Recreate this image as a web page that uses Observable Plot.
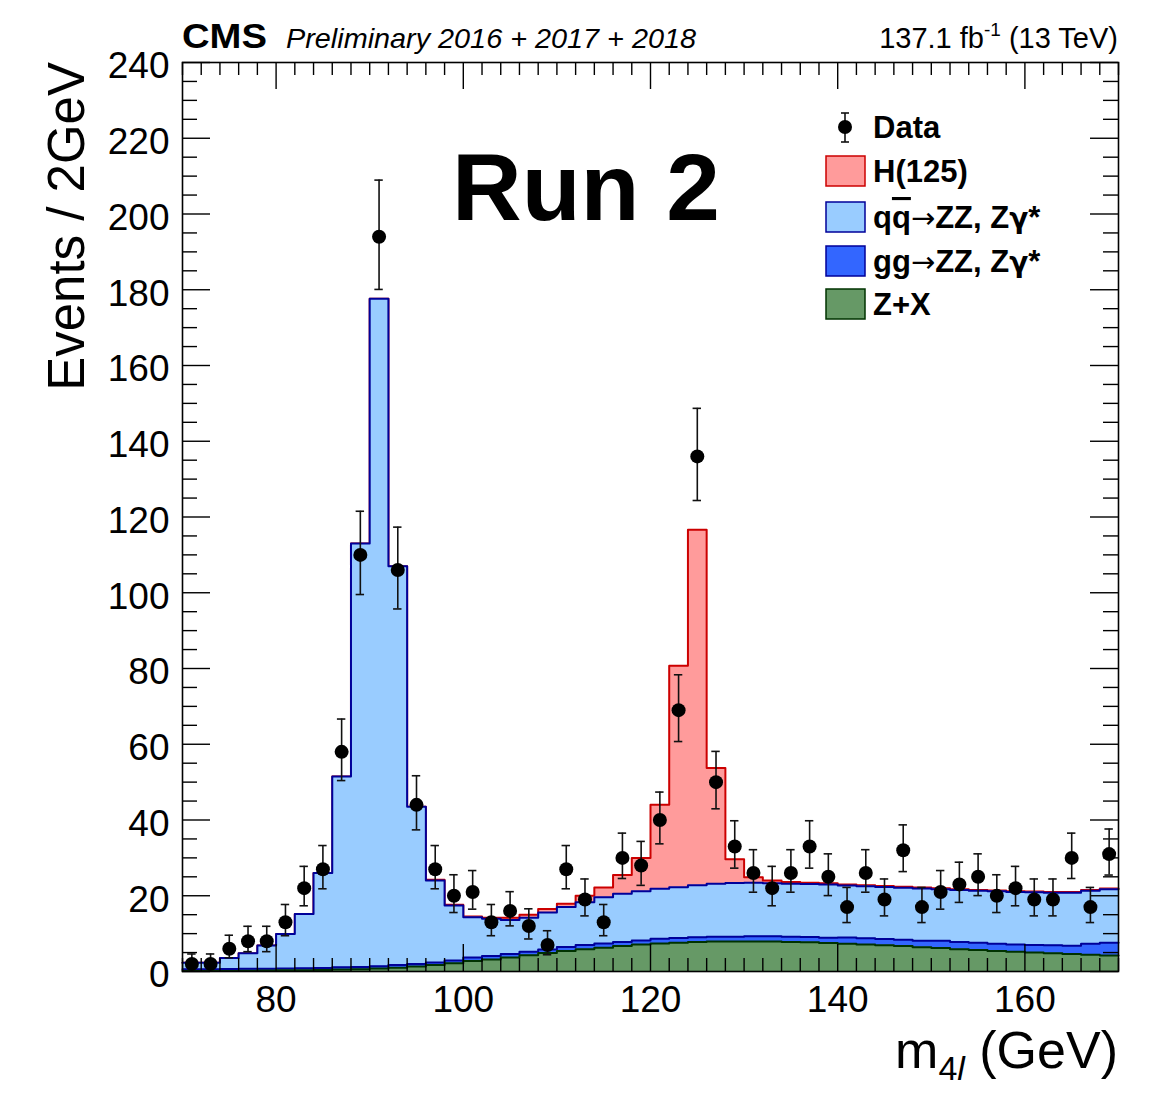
<!DOCTYPE html>
<html>
<head>
<meta charset="utf-8">
<script src="https://cdn.jsdelivr.net/npm/d3@7"></script>
<script src="https://cdn.jsdelivr.net/npm/@observablehq/plot@0.6"></script>
<style>
  html, body { margin: 0; padding: 0; background: #fff; }
  svg { display: block; }
</style>
</head>
<body>
<script>
// ---- Data ----
const binLow = [70,72,74,76,78,80,82,84,86,88,90,92,94,96,98,100,102,104,106,108,
                110,112,114,116,118,120,122,124,126,128,130,132,134,136,138,140,142,144,146,148,
                150,152,154,156,158,160,162,164,166,168];
const binHigh = [72,74,76,78,80,82,84,86,88,90,92,94,96,98,100,102,104,106,108,110,
                 112,114,116,118,120,122,124,126,128,130,132,134,136,138,140,142,144,146,148,150,
                 152,154,156,158,160,162,164,166,168,170];
const binCenter = [71,73,75,77,79,81,83,85,87,89,91,93,95,97,99,101,103,105,107,109,
                   111,113,115,117,119,121,123,125,127,129,131,133,135,137,139,141,143,145,147,149,
                   151,153,155,157,159,161,163,165,167,169];

// Observed events per bin
const dataCounts = [2,2,6,8,8,13,22,27,58,110,194,106,44,27,20,21,13,16,12,7,
                    27,19,13,30,28,40,69,136,50,33,26,22,26,33,25,17,26,19,32,17,
                    21,23,25,20,22,19,19,30,17,31];

// Z+X background
const zx = [0.1,0.1,0.15,0.2,0.25,0.3,0.35,0.4,0.5,0.6,0.8,1.0,1.3,1.7,2.2,2.8,3.2,3.7,4.3,4.9,
            5.4,5.9,6.3,6.7,7.1,7.4,7.6,7.8,7.9,7.9,7.9,7.9,7.8,7.7,7.5,7.3,7.1,6.9,6.7,6.4,
            6.2,5.9,5.7,5.4,5.2,5.0,4.8,4.6,4.4,4.2];
// gg -> ZZ, Zgamma*
const gg = [0.5,0.5,0.5,0.5,0.5,0.5,0.5,0.5,0.6,0.6,0.6,0.7,0.7,0.7,0.7,0.9,0.9,0.9,0.9,0.9,
            1.1,1.1,1.1,1.1,1.1,1.25,1.25,1.25,1.25,1.25,1.4,1.4,1.4,1.4,1.4,1.7,1.7,1.7,1.7,1.7,
            1.9,1.9,1.9,1.9,1.9,2.0,2.1,2.2,2.9,3.4];
// q qbar -> ZZ, Zgamma*
const qq = [1.7,1.7,2.9,4.1,6.1,9.1,14.3,25.1,50.4,111.8,176.2,105.3,41.5,21.6,14.5,10.6,9.8,9.0,9.0,9.8,
            10.5,11.3,12.2,12.7,13.0,13.2,13.4,13.7,14.0,14.2,14.1,14.0,14.0,14.0,14.1,13.7,13.7,13.7,13.7,13.8,
            13.6,13.7,13.7,13.9,13.9,13.9,13.9,14.0,14.0,14.1];
// H(125) signal
const higgs = [0,0,0,0,0,0,0,0,0,0,0,0,0,0.2,0.2,0.2,0.3,0.6,0.8,0.9,
               0.9,1.7,2.6,5.0,8.8,22.2,58.5,93.9,30.6,6.3,1.5,0.7,0.4,0.3,0.3,0.3,0.3,0.3,0.3,0.3,
               0.3,0.2,0.2,0.2,0.2,0.2,0.2,0.2,0.2,0.2];

const xMajor = [80,100,120,140,160];
const xMinor = [70,72,74,76,78,82,84,86,88,90,92,94,96,98,102,104,106,108,110,112,114,116,118,
                122,124,126,128,130,132,134,136,138,142,144,146,148,150,152,154,156,158,162,164,166,168,170];
const yMajor = [0,20,40,60,80,100,120,140,160,180,200,220,240];
const yMinor = [5,10,15,25,30,35,45,50,55,65,70,75,85,90,95,105,110,115,125,130,135,145,150,155,
                165,170,175,185,190,195,205,210,215,225,230,235];

const colors = {
  h:  {fill: "#ff9b9b", stroke: "#cc0000"},
  qq: {fill: "#99ccff", stroke: "#000099"},
  gg: {fill: "#3366ff", stroke: "#000099"},
  zx: {fill: "#669966", stroke: "#003300"}
};

// ---- Build tables ----
const rows = binLow.map((x0, i) => {
  const c1 = zx[i];
  const c2 = c1 + gg[i];
  const c3 = c2 + qq[i];
  const c4 = c3 + higgs[i];
  return {x0, x1: binHigh[i], c1, c2, c3, c4};
});
const last = rows[rows.length - 1];
const stepRows = rows.concat([{...last, x0: last.x1}]);

// Poisson (Garwood, 68%) interval, Wilson-Hilferty form
const dataRows = binCenter.map((xc, i) => {
  const n = dataCounts[i];
  const lo = n > 0 ? n * Math.pow(1 - 1/(9*n) - 1/(3*Math.sqrt(n)), 3) : 0;
  const m = n + 1;
  const hi = m * Math.pow(1 - 1/(9*m) + 1/(3*Math.sqrt(m)), 3);
  return {xc, n, lo, hi};
});

const FONT = '"Liberation Sans", Arial, Helvetica, sans-serif';
const W = 1166, Hh = 1094;
const mL = 182, mR = 48, mT = 62, mB = 123;
const pw = W - mL - mR, ph = Hh - mT - mB;

const layers = [
  {key: "c4", ...colors.h},
  {key: "c3", ...colors.qq},
  {key: "c2", ...colors.gg},
  {key: "c1", ...colors.zx}
];

const svg = Plot.plot({
  width: W, height: Hh,
  marginLeft: mL, marginRight: mR, marginTop: mT, marginBottom: mB,
  style: {fontFamily: FONT, fontSize: "37px", color: "black", background: "white"},
  x: {domain: [70, 170]},
  y: {domain: [0, 240]},
  marks: [
    ...layers.flatMap(l => [
      Plot.areaY(stepRows, {x: "x0", y: l.key, curve: "step-after", fill: l.fill}),
      Plot.lineY(stepRows, {x: "x0", y: l.key, curve: "step-after", stroke: l.stroke, strokeWidth: 2})
    ]),
    // inward ROOT-style ticks
    Plot.tickX(xMinor, {x: d => d, insetTop: ph - 13, stroke: "black", strokeWidth: 1.4}),
    Plot.tickX(xMinor, {x: d => d, insetBottom: ph - 13, stroke: "black", strokeWidth: 1.4}),
    Plot.tickX(xMajor, {x: d => d, insetTop: ph - 27, stroke: "black", strokeWidth: 1.4}),
    Plot.tickX(xMajor, {x: d => d, insetBottom: ph - 27, stroke: "black", strokeWidth: 1.4}),
    Plot.tickY(yMinor, {y: d => d, insetRight: pw - 15, stroke: "black", strokeWidth: 1.4}),
    Plot.tickY(yMinor, {y: d => d, insetLeft: pw - 15, stroke: "black", strokeWidth: 1.4}),
    Plot.tickY(yMajor, {y: d => d, insetRight: pw - 28, stroke: "black", strokeWidth: 1.4}),
    Plot.tickY(yMajor, {y: d => d, insetLeft: pw - 28, stroke: "black", strokeWidth: 1.4}),
    Plot.axisX(xMajor, {anchor: "bottom", tickSize: 0, tickPadding: 14, fontSize: 37, label: null}),
    Plot.axisY(yMajor, {anchor: "left", tickSize: 0, tickPadding: 13, fontSize: 37, dy: 4, label: null}),
    Plot.frame({stroke: "black", strokeWidth: 1.6}),
    // data points
    Plot.ruleX(dataRows, {x: "xc", y1: "lo", y2: "hi", stroke: "#111", strokeWidth: 1.6}),
    Plot.ruleY(dataRows, {y: "hi", x1: d => d.xc - 0.45, x2: d => d.xc + 0.45, stroke: "#111", strokeWidth: 1.6}),
    Plot.ruleY(dataRows, {y: "lo", x1: d => d.xc - 0.45, x2: d => d.xc + 0.45, stroke: "#111", strokeWidth: 1.6}),
    Plot.dot(dataRows, {x: "xc", y: "n", r: 7, fill: "black", stroke: "none"})
  ]
});
document.body.appendChild(svg);

// ---- Text decorations (header, titles, legend) ----
const s = d3.select(svg).append("g").attr("font-family", FONT).attr("fill", "black")
  .attr("text-anchor", "start");

s.append("text").attr("x", 182).attr("y", 48).attr("font-size", 35).attr("font-weight", "bold")
  .attr("textLength", 85).attr("lengthAdjust", "spacingAndGlyphs").text("CMS");
s.append("text").attr("x", 286).attr("y", 48).attr("font-size", 28).attr("font-style", "italic")
  .attr("textLength", 410).attr("lengthAdjust", "spacingAndGlyphs")
  .text("Preliminary 2016 + 2017 + 2018");
const lumi = s.append("text").attr("x", 1118).attr("y", 48).attr("font-size", 29).attr("text-anchor", "end");
lumi.append("tspan").text("137.1 fb");
lumi.append("tspan").attr("font-size", 19).attr("dy", -12).text("-1");
lumi.append("tspan").attr("dy", 12).text(" (13 TeV)");

// Y title
s.append("text").attr("transform", "translate(84,62) rotate(-90)").attr("text-anchor", "end")
  .attr("font-size", 51).text("Events / 2GeV");

// X title
const xt = s.append("text").attr("x", 1118).attr("y", 1068).attr("text-anchor", "end").attr("font-size", 52);
xt.append("tspan").text("m");
xt.append("tspan").attr("font-size", 34).attr("dy", 12).text("4");
xt.append("tspan").attr("font-size", 34).attr("font-style", "italic").text("l");
xt.append("tspan").attr("dy", -12).text(" (GeV)");

// Run 2
s.append("text").attr("x", 452).attr("y", 220).attr("font-size", 94).attr("font-weight", "bold")
  .attr("textLength", 268).attr("lengthAdjust", "spacingAndGlyphs").text("Run 2");

// Legend
const lg = s.append("g").attr("font-weight", "bold").attr("font-size", 31);
// data entry
lg.append("line").attr("x1", 845).attr("x2", 845).attr("y1", 113).attr("y2", 142).attr("stroke", "#111").attr("stroke-width", 1.6);
lg.append("line").attr("x1", 841).attr("x2", 849).attr("y1", 113).attr("y2", 113).attr("stroke", "#111").attr("stroke-width", 1.6);
lg.append("line").attr("x1", 841).attr("x2", 849).attr("y1", 142).attr("y2", 142).attr("stroke", "#111").attr("stroke-width", 1.6);
lg.append("circle").attr("cx", 845).attr("cy", 127).attr("r", 7).attr("fill", "black");
lg.append("text").attr("x", 873).attr("y", 138).text("Data");

const entries = [
  {c: colors.h,  cy: 171, label: "H(125)"},
  {c: colors.qq, cy: 217, label: "qq"},
  {c: colors.gg, cy: 261, label: "gg"},
  {c: colors.zx, cy: 304, label: "Z+X"}
];
const addTail = t => {
  t.append("tspan").attr("font-family", '"DejaVu Sans", sans-serif').attr("font-weight", "normal")
    .attr("font-size", 29).text("\u2192");
  t.append("tspan").text("ZZ, Z");
  t.append("tspan").attr("font-family", '"DejaVu Sans", sans-serif').attr("font-size", 28).text("\u03b3");
  t.append("tspan").text("*");
};
entries.forEach(e => {
  lg.append("rect").attr("x", 826).attr("y", e.cy - 15).attr("width", 39).attr("height", 30)
    .attr("fill", e.c.fill).attr("stroke", e.c.stroke).attr("stroke-width", 1.5);
  const t = lg.append("text").attr("x", 873).attr("y", e.cy + 11);
  if (e.label === "qq") {
    t.append("tspan").text("q");
    t.append("tspan").style("text-decoration", "overline").text("q");
    addTail(t);
  } else if (e.label === "gg") {
    t.append("tspan").text("gg");
    addTail(t);
  } else {
    t.text(e.label);
  }
});
</script>
</body>
</html>
